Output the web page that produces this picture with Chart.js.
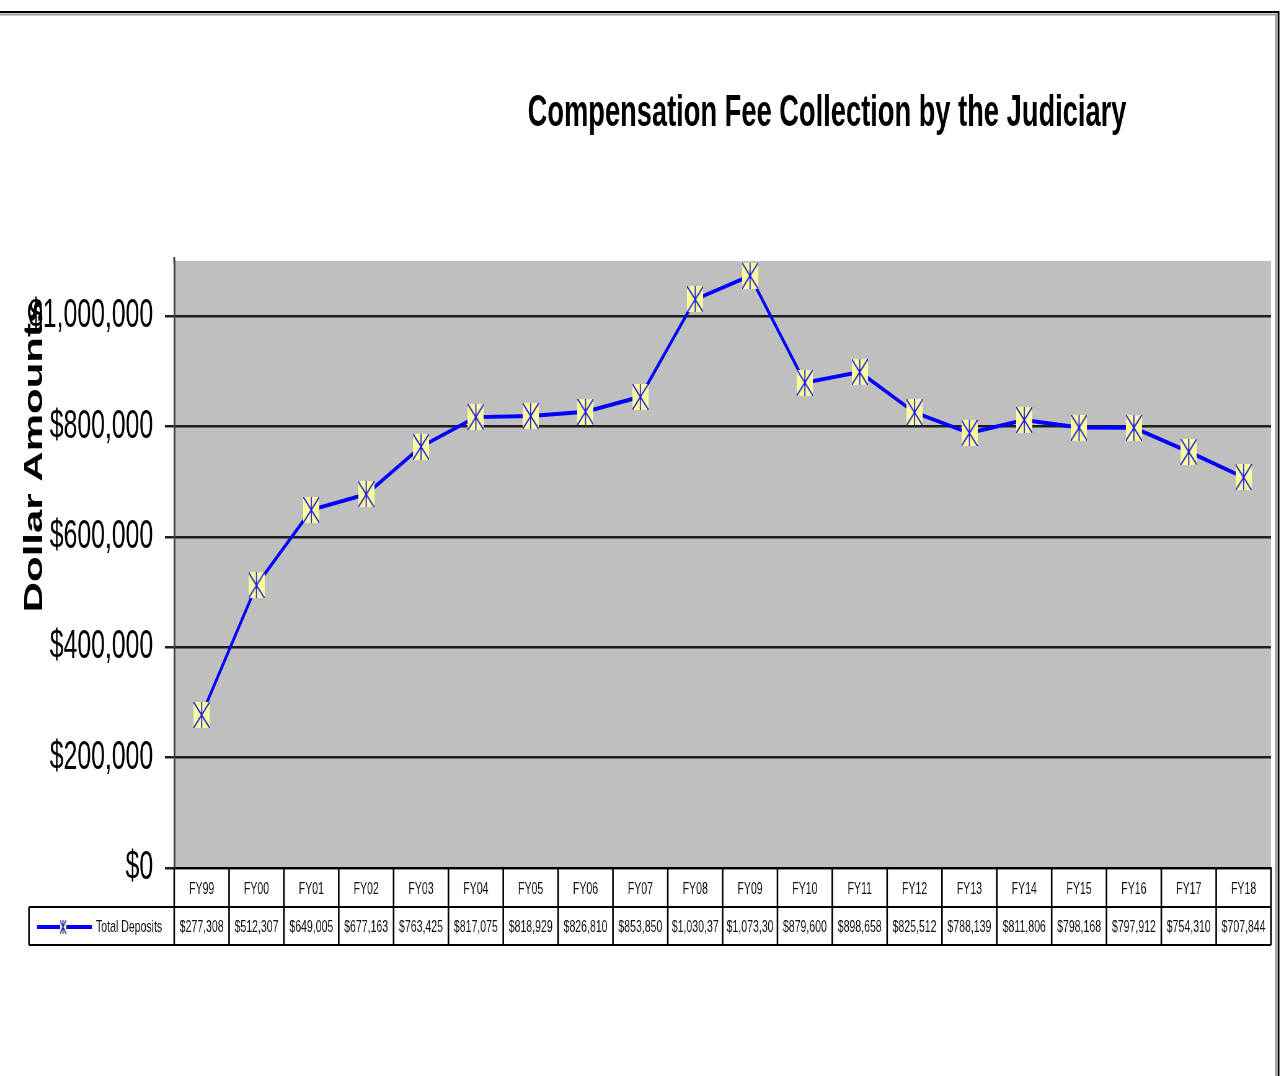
<!DOCTYPE html>
<html>
<head>
<meta charset="utf-8">
<script src="https://cdn.jsdelivr.net/npm/chart.js@4/dist/chart.umd.min.js"></script>
<style>
  html, body { margin: 0; padding: 0; background: #fff; overflow: hidden; }
  #wrap { width: 1285px; height: 1076px; overflow: hidden; }
  #chart { transform-origin: 0 0; }
</style>
</head>
<body>
<div id="wrap"><canvas id="chart"></canvas></div>
<script>
// data
const categories = ["FY99","FY00","FY01","FY02","FY03","FY04","FY05","FY06","FY07","FY08",
                    "FY09","FY10","FY11","FY12","FY13","FY14","FY15","FY16","FY17","FY18"];
const totalDeposits = [277308, 512307, 649005, 677163, 763425, 817075, 818929, 826810, 853850, 1030370,
                       1073300, 879600, 898658, 825512, 788139, 811806, 798168, 797912, 754310, 707844];
const yTicks = [0, 200000, 400000, 600000, 800000, 1000000];
const yMax = 1100000;
const seriesName = "Total Deposits";
const chartTitle = "Compensation Fee Collection by the Judiciary";
const yTitle = "Dollar Amounts";

// the original picture is squeezed sideways, so draw wide and squeeze the canvas
const SQ = 0.62;
const W = Math.round(1285 / SQ);
const H = 1076;
const sx = v => v / SQ;

const canvas = document.getElementById("chart");
canvas.width = W;
canvas.height = H;
canvas.style.width = W + "px";
canvas.style.height = H + "px";
canvas.style.transform = "scaleX(" + SQ + ")";

const FONT = "'Liberation Sans', Arial, sans-serif";

//yellow box with a blue asterisk
function makeMarker(w, h, lw) {
  const c = document.createElement("canvas");
  c.width = w; c.height = h;
  const g = c.getContext("2d");
  g.fillStyle = "#fbfb9c";
  g.fillRect(0, 0, w, h);
  g.strokeStyle = "#1414e6";
  g.lineWidth = lw;
  g.beginPath();
  g.moveTo(w / 2, 0); g.lineTo(w / 2, h);
  g.moveTo(0, 0); g.lineTo(w, h);
  g.moveTo(w, 0); g.lineTo(0, h);
  g.stroke();
  return c;
}
const marker = makeMarker(26, 26, 1.7);
const legendMarker = makeMarker(10, 14, 1.4);

const fmt = v => "$" + v.toLocaleString("en-US");

const decor = {
  id: "decor",
  beforeDraw(chart) {
    const a = chart.chartArea;
    const ctx = chart.ctx;
    ctx.save();
    ctx.fillStyle = "#bfbfbf";
    ctx.fillRect(a.left, a.top, a.right - a.left, a.bottom - a.top);
    ctx.restore();
  },
  afterDraw(chart) {
    const ctx = chart.ctx;
    const a = chart.chartArea;
    const xs = chart.scales.x;
    const n = categories.length;
    const cw = (a.right - a.left) / n;
    const row2Top = a.bottom + 39;
    const row2Bot = xs.bottom;
    const legLeft = sx(29);
    ctx.save();

    // title
    ctx.fillStyle = "#000";
    ctx.font = "bold 44px " + FONT;
    ctx.textAlign = "center";
    ctx.textBaseline = "alphabetic";
    ctx.fillText(chartTitle, sx(827), 126);

    // y axis title
    ctx.save();
    ctx.translate(sx(42), 456);
    ctx.rotate(-Math.PI / 2);
    ctx.font = "bold 42px " + FONT;
    ctx.fillText(yTitle, 0, 0);
    ctx.restore();

    // data table lines
    ctx.strokeStyle = "#000";
    ctx.lineWidth = 2.6;
    ctx.beginPath();
    for (let i = 0; i <= n; i++) {
      const x = a.left + i * cw;
      ctx.moveTo(x, a.bottom);
      ctx.lineTo(x, row2Bot);
    }
    ctx.moveTo(legLeft, row2Top);
    ctx.lineTo(legLeft, row2Bot);
    ctx.stroke();
    ctx.lineWidth = 2;
    ctx.beginPath();
    ctx.moveTo(legLeft, row2Top); ctx.lineTo(a.right, row2Top);
    ctx.moveTo(legLeft, row2Bot); ctx.lineTo(a.right, row2Bot);
    ctx.stroke();

    // values row
    const midY = (row2Top + row2Bot) / 2 + 1;
    ctx.font = "17px " + FONT;
    ctx.fillStyle = "#111";
    ctx.textBaseline = "middle";
    totalDeposits.forEach((v, i) => {
      let t = fmt(v);
      while (ctx.measureText(t).width > cw - 6) t = t.slice(0, -1);
      ctx.textAlign = "center";
      ctx.fillText(t, xs.getPixelForValue(i), midY);
    });

    // legend key in the table
    ctx.strokeStyle = "#0000ff";
    ctx.lineWidth = 4;
    ctx.beginPath();
    ctx.moveTo(sx(37), midY); ctx.lineTo(sx(92), midY);
    ctx.stroke();
    ctx.drawImage(legendMarker, sx(63) - 5, midY - 7);
    ctx.textAlign = "left";
    ctx.fillText(seriesName, sx(96), midY);

    // outer frame
    ctx.strokeStyle = "#000";
    ctx.lineWidth = 2;
    ctx.beginPath();
    ctx.moveTo(0, 12); ctx.lineTo(sx(1279), 12);
    ctx.stroke();
    ctx.strokeStyle = "#9a9a9a";
    ctx.beginPath();
    ctx.moveTo(0, 14.5); ctx.lineTo(sx(1277), 14.5);
    ctx.stroke();
    ctx.lineWidth = 3;
    ctx.strokeStyle = "#000";
    ctx.beginPath();
    ctx.moveTo(sx(1278.5), 11); ctx.lineTo(sx(1278.5), H);
    ctx.stroke();
    ctx.strokeStyle = "#9a9a9a";
    ctx.beginPath();
    ctx.moveTo(sx(1276), 14); ctx.lineTo(sx(1276), H);
    ctx.stroke();

    // axis line pokes a little above the plot
    ctx.strokeStyle = "#444";
    ctx.lineWidth = 3;
    ctx.beginPath();
    ctx.moveTo(a.left, a.top - 4); ctx.lineTo(a.left, a.top + 2);
    ctx.stroke();
    ctx.restore();
  }
};

new Chart(canvas, {
  type: "line",
  plugins: [decor],
  data: {
    labels: categories,
    datasets: [{
      label: seriesName,
      data: totalDeposits,
      borderColor: "#0000ff",
      backgroundColor: "#0000ff",
      borderWidth: 4,
      tension: 0,
      pointStyle: marker,
      pointRadius: 12,
    }],
  },
  options: {
    responsive: false,
    devicePixelRatio: 1,
    animation: false,
    layout: { padding: { top: 261, bottom: 131, left: 0, right: W - Math.round(sx(1271)) } },
    plugins: {
      legend: { display: false },
      title: { display: false },
      tooltip: { enabled: false },
    },
    scales: {
      x: {
        type: "category",
        offset: true,
        grid: { display: false },
        border: { display: true, color: "#000", width: 2 },
        ticks: {
          font: { family: FONT, size: 17 },
          color: "#111",
          padding: 3,
          maxRotation: 0,
          autoSkip: false,
        },
        afterFit: (s) => { s.height = 77; },
      },
      y: {
        min: 0,
        max: yMax,
        afterBuildTicks: (s) => { s.ticks = yTicks.map(v => ({ value: v })); },
        grid: { color: "#1e1e1e", lineWidth: 2.5, tickLength: 15, tickColor: "#1e1e1e" },
        border: { display: true, color: "#444", width: 3 },
        ticks: {
          font: { family: FONT, size: 40 },
          color: "#000",
          padding: 19,
          callback: (v) => fmt(v),
        },
        afterFit: (s) => { s.width = Math.round(sx(174)); },
      },
    },
  },
});
</script>
</body>
</html>
